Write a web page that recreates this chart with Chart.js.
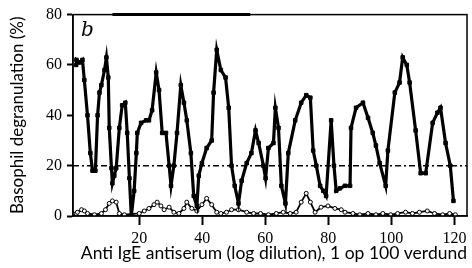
<!DOCTYPE html>
<html>
<head>
<meta charset="utf-8">
<script src="https://cdn.jsdelivr.net/npm/chart.js@4/dist/chart.umd.min.js"></script>
<style>
    html, body { margin: 0; padding: 0; background: #fff; }
    #wrap { width: 472px; height: 268px; }
</style>
</head>
<body>
<div id="wrap"><canvas id="degranChart"></canvas></div>
<script>
/* Values */
var antiIgeDilution = [0, 0.1, 1.1, 2, 2.6, 3.6, 4.5, 5.2, 6.1, 6.8, 7.4, 8, 9, 9.6, 10.2, 10.5, 11.2, 11.5, 12.1, 12.7,
    13.7, 14.6, 15.6, 16.2, 16.9, 17.5, 18.4, 19.1, 19.4, 20.6, 22.2, 23.1, 24.1, 25.4, 26.3, 27.3, 28.5, 29.5, 30.1, 31,
    32, 33.2, 34.2, 35.1, 36.4, 37.3, 38.3, 38.9, 39.9, 41.4, 43, 43.6, 44.6, 45.9, 47.4, 48.4, 49.3, 50.3, 51.5, 52.5,
    54.1, 55.6, 56.9, 57.9, 59.4, 60.1, 61, 62.6, 63.2, 64.2, 65.1, 66.4, 67.3, 69.5, 71.4, 73, 74.3, 75.2, 76.2, 77.4,
    78.4, 79.3, 80.9, 81.8, 82.5, 83.7, 85.3, 86.9, 87.2, 88.8, 91, 92.6, 94.1, 95.1, 96.3, 98.2, 98.9, 101.1, 102.6, 103.6,
    104.9, 105.8, 107.7, 109.3, 110.9, 113.1, 114.6, 115.6, 117.2, 118.7, 119.7];
var antiIgeDegran = [60, 62, 61, 62, 54, 40, 25, 18, 18, 40, 49, 52, 58, 63, 55, 35, 19, 13, 16, 19,
    35, 44, 45, 33, 15, 0, 10, 25, 33, 37, 38, 38, 42, 57, 50, 33, 33, 20, 12, 20,
    33, 52, 45, 38, 25, 8, 4, 16, 21, 27, 30, 49, 66, 58, 55, 43, 20, 12, 5, 14,
    21, 25, 34, 29, 20, 15, 27, 29, 43, 35, 12, 5, 25, 38, 45, 48, 47, 26, 20, 12,
    10, 8, 38, 20, 10, 11, 12, 12, 35, 43, 45, 39, 33, 28, 21, 12, 26, 49, 53, 63,
    60, 53, 34, 17, 17, 37, 41, 43, 29, 20, 6];

var controlDilution = [0, 0.4, 1.7, 2.6, 3.6, 5.8, 8, 9.3, 10.5, 11.5, 12.7, 13.7, 15.3, 20, 21.6, 23.1, 24.7, 25.7, 26.9, 27.9,
    29.5, 31, 32.6, 34.2, 35.1, 36.7, 38.3, 39.9, 41.4, 43, 44.6, 45.9, 47.7, 49.3, 51.5, 54.1, 56.3, 58.5, 61, 63.5,
    65.7, 67.9, 69.8, 71.4, 73, 74.3, 75.8, 77.7, 79.9, 82.1, 84.1, 85.3, 87.8, 90, 92.6, 95.1, 97.3, 99.8, 102, 104.5,
    106.7, 108.9, 111.4, 113.7, 116.3, 118.5, 120.3];
var controlDegran = [1, 1.5, 2.5, 2, 1, 0.5, 1, 2.5, 5, 6, 5.5, 1, 0.5, 1, 2, 3, 4.5, 5.5, 4, 2.5,
    3.5, 1.5, 1, 3, 5.5, 3, 2, 4.5, 7, 4.5, 1.5, 1, 1.5, 2.5, 2.5, 1.5, 1, 1, 0.5, 1,
    1.5, 1, 1.5, 5.5, 9, 5.5, 1.5, 3.5, 4, 3, 2.5, 1.5, 1, 0.5, 1, 0.5, 1, 0.5, 1, 1.5,
    1, 1.5, 2, 1, 0.5, 1, 0.5];

var baselineLevel = 20;
var xTicks = [20, 40, 60, 80, 100, 120];
var yTicks = [0, 20, 40, 60, 80];

function toPoints(xs, ys) {
    return xs.map(function (x, i) { return { x: x, y: ys[i] }; });
}

/* box round the plot and the panel letter */
var framePlugin = {
    id: 'frame',
    afterDraw: function (chart) {
        var ctx = chart.ctx, a = chart.chartArea;
        var w = a.right - a.left;
        ctx.save();
        ctx.strokeStyle = '#000';
        ctx.lineWidth = 1.5;
        ctx.strokeRect(a.left, a.top, w, a.bottom - a.top);
        // top edge is heavier over part of its length in the original
        ctx.lineWidth = 3;
        ctx.beginPath();
        ctx.moveTo(a.left + w * 0.1, a.top);
        ctx.lineTo(a.left + w * 0.45, a.top);
        ctx.stroke();
        ctx.fillStyle = '#000';
        ctx.font = 'italic 20px "DejaVu Serif"';
        ctx.fillText('b', a.left + 8, a.top + 21);
        ctx.restore();
    }
};

new Chart(document.getElementById('degranChart').getContext('2d'), {
    type: 'line',
    data: {
        datasets: [{
            label: 'Anti IgE',
            data: toPoints(antiIgeDilution, antiIgeDegran),
            borderColor: '#000',
            backgroundColor: '#000',
            borderWidth: 3.2,
            pointStyle: 'rect',
            pointRadius: 2.5,
            pointBorderWidth: 1,
            tension: 0,
            order: 1
        }, {
            label: 'Control',
            data: toPoints(controlDilution, controlDegran),
            borderColor: '#000',
            backgroundColor: '#fff',
            borderWidth: 1.8,
            pointStyle: 'circle',
            pointRadius: 2,
            pointBorderWidth: 1,
            tension: 0,
            order: 2
        }, {
            label: 'Baseline',
            data: [{ x: -1, y: baselineLevel }, { x: 124, y: baselineLevel }],
            borderColor: '#000',
            borderWidth: 1.5,
            borderDash: [6, 3, 2, 3],
            pointRadius: 0,
            order: 3
        }]
    },
    options: {
        responsive: true,
        maintainAspectRatio: false,
        animation: false,
        layout: { padding: { top: 14, right: 2, left: 0, bottom: 0 } },
        plugins: {
            legend: { display: false },
            tooltip: { enabled: false }
        },
        scales: {
            x: {
                type: 'linear',
                min: -1,
                max: 124,
                afterBuildTicks: function (scale) {
                    scale.ticks = xTicks.map(function (v) { return { value: v }; });
                },
                afterFit: function (scale) { scale.height = 52; },
                grid: { drawOnChartArea: false, tickLength: 9, tickWidth: 2, tickColor: '#000' },
                border: { color: '#000', width: 1.5 },
                ticks: {
                    color: '#000',
                    padding: 4,
                    maxRotation: 0,
                    font: { family: '"Liberation Serif"', size: 16 }
                },
                title: {
                    display: true,
                    align: 'end',
                    text: 'Anti IgE antiserum (log dilution), 1 op 100 verdund',
                    color: '#000',
                    padding: { top: 0, bottom: 4 },
                    font: { family: 'Lato', size: 17.5 }
                }
            },
            y: {
                min: 0,
                max: 80,
                afterBuildTicks: function (scale) {
                    scale.ticks = yTicks.map(function (v) { return { value: v }; });
                },
                afterFit: function (scale) { scale.width = 73; },
                grid: { drawOnChartArea: false, tickLength: 6, tickWidth: 2, tickColor: '#000' },
                border: { color: '#000', width: 1.5 },
                ticks: {
                    color: '#000',
                    padding: 5,
                    font: { family: '"Liberation Serif"', size: 16 }
                },
                title: {
                    display: true,
                    text: 'Basophil degranulation (%)',
                    color: '#000',
                    padding: { top: 7, bottom: 0 },
                    font: { family: 'Lato', size: 17 }
                }
            }
        }
    },
    plugins: [framePlugin]
});
</script>
</body>
</html>
